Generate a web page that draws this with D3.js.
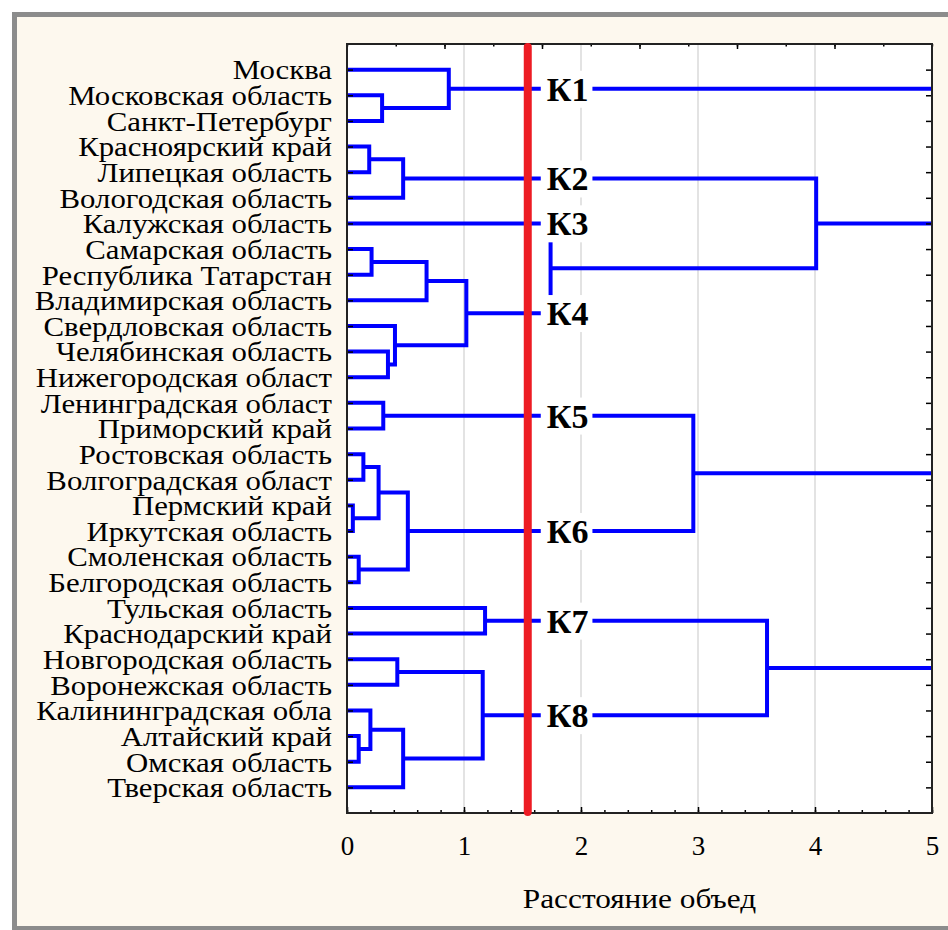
<!DOCTYPE html>
<html>
<head>
<meta charset="utf-8">
<script src="https://cdn.jsdelivr.net/npm/d3@7"></script>
<style>
  body { margin: 0; background: #fff; }
  text { font-family: "Liberation Serif", "Times New Roman", serif; fill: #000; }
</style>
</head>
<body>
<div id="chart"></div>
<script>
const leaves = [
  "Москва",
  "Московская область",
  "Санкт-Петербург",
  "Красноярский край",
  "Липецкая область",
  "Вологодская область",
  "Калужская область",
  "Самарская область",
  "Республика Татарстан",
  "Владимирская область",
  "Свердловская область",
  "Челябинская область",
  "Нижегородская област",
  "Ленинградская област",
  "Приморский край",
  "Ростовская область",
  "Волгоградская област",
  "Пермский край",
  "Иркутская область",
  "Смоленская область",
  "Белгородская область",
  "Тульская область",
  "Краснодарский край",
  "Новгородская область",
  "Воронежская область",
  "Калининградская обла",
  "Алтайский край",
  "Омская область",
  "Тверская область",
];

// [child a, child b, distance]; ids 0..28 are leaves, merges get ids from 29 on
const merges = [
  [1, 2, 0.3],     // 29
  [0, 29, 0.87],   // 30  К1
  [3, 4, 0.19],    // 31
  [31, 5, 0.48],   // 32  К2
  [7, 8, 0.21],    // 33
  [33, 9, 0.68],   // 34
  [11, 12, 0.35],  // 35
  [10, 35, 0.41],  // 36
  [34, 36, 1.02],  // 37  К4
  [6, 37, 1.74],   // 38
  [32, 38, 4.01],  // 39
  [13, 14, 0.31],  // 40  К5
  [15, 16, 0.14],  // 41
  [17, 18, 0.05],  // 42
  [41, 42, 0.27],  // 43
  [19, 20, 0.1],   // 44
  [43, 44, 0.52],  // 45  К6
  [40, 45, 2.96],  // 46
  [21, 22, 1.18],  // 47  К7
  [23, 24, 0.43],  // 48
  [26, 27, 0.1],   // 49
  [25, 49, 0.2],   // 50
  [50, 28, 0.48],  // 51
  [48, 51, 1.16],  // 52  К8
  [47, 52, 3.59],  // 53
];

// nodes that join above the right end of the axis
const openRoots = [30, 39, 46, 53];

const clusterLabels = ["К1", "К2", "К3", "К4", "К5", "К6", "К7", "К8"];
const clusterNodes = [30, 32, 6, 37, 40, 45, 47, 52];

const cutDistance = 1.545;
const xTicks = [0, 1, 2, 3, 4, 5];
const axisTitle = "Расстояние объед";

const W = 948;
const H = 930;
const margin = { top: 44, right: 16, bottom: 117, left: 347 };

const svg = d3.select("#chart").append("svg").attr("width", W).attr("height", H);

// window frame
svg.append("rect")
  .attr("x", 14.5).attr("y", 14.5)
  .attr("width", W + 20).attr("height", H - 16)
  .attr("fill", "#fdf8ee")
  .attr("stroke", "#8c8c8c")
  .attr("stroke-width", 5);

const x = d3.scaleLinear()
  .domain([0, 5])
  .range([margin.left, W - margin.right]);

const y = d3.scalePoint()
  .domain(d3.range(leaves.length))
  .range([margin.top, H - margin.bottom])
  .padding(1);

const x0 = x.range()[0], x1 = x.range()[1];
const y0 = margin.top, y1 = H - margin.bottom;

svg.append("rect")
  .attr("x", x0).attr("y", y0)
  .attr("width", x1 - x0).attr("height", y1 - y0)
  .attr("fill", "#fff");

// grid
svg.append("g")
  .selectAll("line")
  .data(xTicks.slice(1, -1))
  .join("line")
  .attr("x1", (d) => x(d)).attr("x2", (d) => x(d))
  .attr("y1", y0).attr("y2", y1)
  .attr("stroke", "#dadada")
  .attr("stroke-width", 1.5);

// build node positions
const nodes = leaves.map((name, i) => ({ h: 0, y: y(i) }));
merges.forEach(([a, b, h]) => {
  nodes.push({ a, b, h, y: (nodes[a].y + nodes[b].y) / 2 });
});

const links = svg.append("g")
  .attr("fill", "none")
  .attr("stroke", "#0000ff")
  .attr("stroke-width", 4);

links.selectAll("path.merge")
  .data(nodes.filter((d) => d.a !== undefined))
  .join("path")
  .attr("class", "merge")
  .attr("d", (d) => {
    const a = nodes[d.a], b = nodes[d.b];
    return `M${x(a.h)},${a.y}H${x(d.h)}V${b.y}H${x(b.h)}`;
  });

links.selectAll("path.root")
  .data(openRoots.map((id) => nodes[id]))
  .join("path")
  .attr("class", "root")
  .attr("d", (d) => `M${x(d.h)},${d.y}H${x1}`);

// leaf labels (the source font renders a little wider than Liberation Serif)
svg.append("g")
  .selectAll("text")
  .data(leaves)
  .join("text")
  .attr("transform", (d, i) => `translate(${x0 - 15},${y(i)}) scale(1.1,1)`)
  .attr("dy", "0.35em")
  .attr("text-anchor", "end")
  .attr("font-size", 28)
  .text((d) => d);

// axes
const axisStyle = (g) => {
  g.select(".domain").remove();
  g.selectAll(".tick line").attr("stroke", "#000").attr("stroke-width", 1.5);
};

svg.append("g")
  .attr("transform", `translate(0,${y1})`)
  .call(d3.axisBottom(x).ticks(20).tickSize(-3).tickFormat(""))
  .call(axisStyle);

svg.append("g")
  .attr("transform", `translate(0,${y1})`)
  .call(d3.axisBottom(x).tickValues(xTicks).tickSize(-6).tickPadding(23).tickFormat(d3.format("d")))
  .call(axisStyle)
  .call((g) => g.selectAll(".tick text")
    .attr("font-size", 27)
    .attr("font-family", "Liberation Serif")
    .attr("fill", "#000"));

const xTop = d3.scaleLinear().domain([0, 12]).range(x.range());
svg.append("g")
  .attr("transform", `translate(0,${y0})`)
  .call(d3.axisTop(xTop).ticks(12).tickSize(-2.5).tickFormat(""))
  .call(axisStyle);
svg.append("g")
  .attr("transform", `translate(0,${y0})`)
  .call(d3.axisTop(xTop).tickValues(d3.range(2, 12, 2)).tickSize(-5).tickFormat(""))
  .call(axisStyle);

svg.append("g")
  .attr("transform", `translate(${x0},0)`)
  .call(d3.axisLeft(y).tickSize(-6).tickFormat(""))
  .call(axisStyle);

svg.append("g")
  .attr("transform", `translate(${x1},0)`)
  .call(d3.axisRight(y).tickSize(-6).tickFormat(""))
  .call(axisStyle);

// plot frame
svg.append("rect")
  .attr("x", x0).attr("y", y0)
  .attr("width", x1 - x0).attr("height", y1 - y0)
  .attr("fill", "none")
  .attr("stroke", "#222")
  .attr("stroke-width", 2);

svg.append("text")
  .attr("transform", `translate(${(x0 + x1) / 2},908) scale(1.16,1)`)
  .attr("text-anchor", "middle")
  .attr("font-size", 27)
  .text(axisTitle);

// cluster labels on white boxes
const labelGroup = svg.append("g");
clusterNodes.forEach((id, i) => {
  const g = labelGroup.append("g");
  const t = g.append("text")
    .attr("x", x(cutDistance) + 19)
    .attr("y", nodes[id].y)
    .attr("dy", "0.35em")
    .attr("font-size", 34)
    .attr("font-weight", "bold")
    .text(clusterLabels[i]);
  const bb = t.node().getBBox();
  g.insert("rect", "text")
    .attr("x", bb.x - 6)
    .attr("y", bb.y)
    .attr("width", bb.width + 10)
    .attr("height", bb.height)
    .attr("fill", "#fff");
});

// cut line
svg.append("line")
  .attr("x1", x(cutDistance)).attr("x2", x(cutDistance))
  .attr("y1", y0 + 3).attr("y2", y1 - 1)
  .attr("stroke", "#ed1c24")
  .attr("stroke-width", 8)
  .attr("stroke-linecap", "round");
</script>
</body>
</html>
